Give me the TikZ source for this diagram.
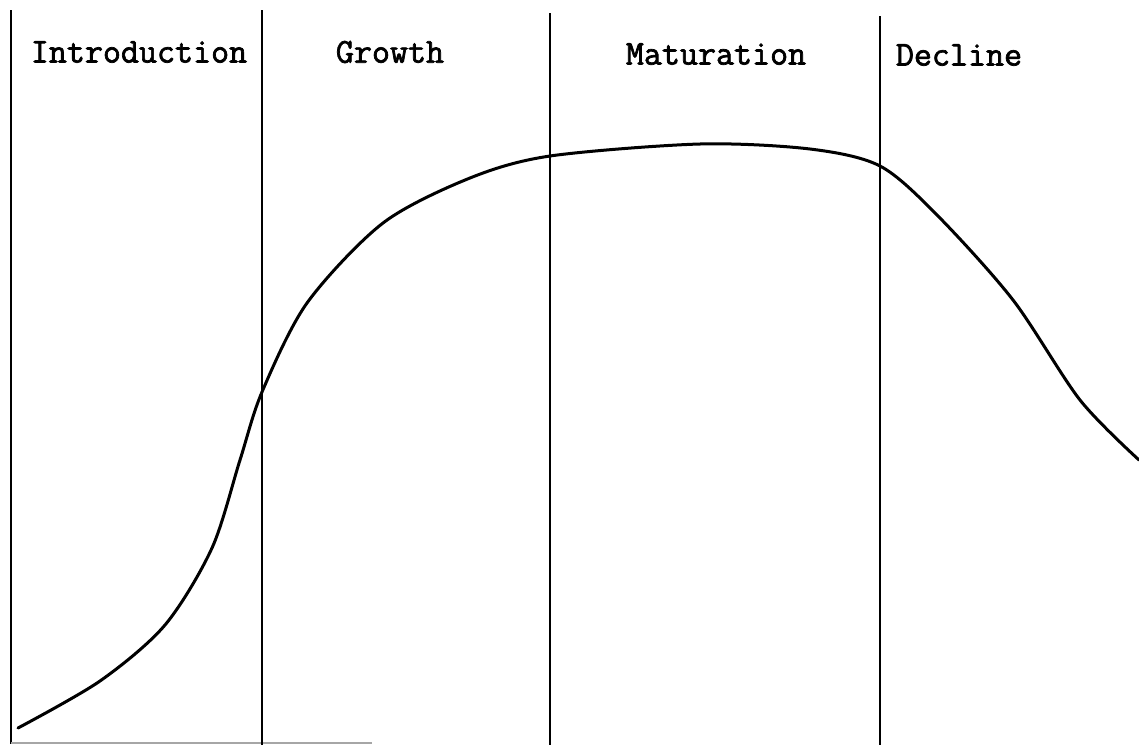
\documentclass[tikz,border=0pt]{standalone}
\usepackage{fontspec}
\newfontfamily\phasefont{Latin Modern Mono}[FakeBold=2]
\usetikzlibrary{positioning}
\tikzset{
    % Lines
    divider/.style={line width=1.8pt, black},
    baseline/.style={line width=1.5pt, gray!70},
    lifecurve/.style={line width=3pt, black, line cap=round, line join=round},
    % Labels
    phase/.style={font=\fontsize{35}{40}\phasefont, inner sep=0pt, anchor=center}
}
\begin{document}
\begin{tikzpicture}[x=1pt, y=-1pt]

\useasboundingbox (0,0) rectangle (1139,745);

% Frame and phase dividers
\draw[divider] (11,10) -- (11,744);
\draw[baseline] (11,743) -- (372,743);
\draw[divider] (262,10) -- (262,745);
\draw[divider] (550,13) -- (550,745);
\draw[divider] (880,16) -- (880,745);

% Phase labels
\node[phase] (intro) at (139,52) {Introduction};
\node[phase] (growth) at (390,52) {Growth};
\node[phase] (mature) at (716,54) {Maturation};
\node[phase] (decline) at (959,55) {Decline};

% Life cycle curve
\draw[lifecurve] plot[smooth, tension=0.5] coordinates {
    (18,728) (100,681) (165,625) (212,548) (240,460) (262,392)
    (307,303) (383,223) (470,178) (550,156) (700,144) (810,149)
    (880,166) (937,215) (1013,300) (1080,400) (1139,460)
};

\end{tikzpicture}
\end{document}
